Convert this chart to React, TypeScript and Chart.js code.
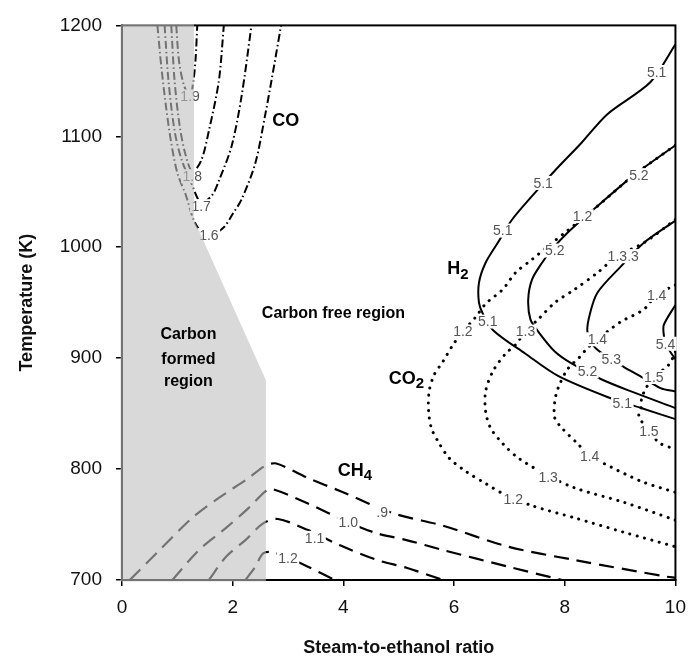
import React, { useEffect, useRef } from "react";
import { Chart, registerables } from "chart.js";

Chart.register(...registerables);

type P = [number, number];

const FONT = "'Liberation Sans', Arial, Helvetica, sans-serif";

// Axis ranges / ticks
const xRange: P = [0, 10];
const yRange: P = [700, 1200];
const xStep = 2;
const yStep = 100;

// Carbon-formed region boundary (steam/ethanol ratio, temperature K)
const shadeX = [0, 1.3, 1.3, 2.6, 2.6, 0];
const shadeY = [1200, 1200, 1025, 880, 700, 700];

// CO contours (dash-dot)
const co16: P[] = [[0.64, 1200], [0.71, 1163], [0.8, 1125], [0.89, 1094], [1.0, 1067], [1.16, 1046], [1.3, 1024], [1.45, 1013], [1.62, 1011], [1.84, 1018], [2.0, 1030], [2.16, 1043], [2.41, 1076], [2.59, 1120], [2.7, 1150], [2.875, 1200]];
const co17: P[] = [[0.77, 1200], [0.84, 1150], [0.95, 1105], [1.07, 1080], [1.25, 1058], [1.43, 1040], [1.63, 1047], [1.75, 1060], [1.98, 1091], [2.16, 1136], [2.34, 1200]];
const co18: P[] = [[0.89, 1200], [0.95, 1150], [1.04, 1110], [1.14, 1085], [1.27, 1068], [1.43, 1078], [1.57, 1105], [1.75, 1150], [1.84, 1200]];
const co19: P[] = [[0.98, 1200], [1.03, 1168], [1.12, 1146], [1.23, 1136], [1.29, 1150], [1.33, 1170], [1.36, 1200]];

// CH4 contours (long dash)
const ch409: P[] = [[0.14, 700], [0.68, 727], [1.27, 756], [1.75, 774], [2.29, 792], [2.59, 803], [2.79, 805], [3.36, 792], [3.95, 780], [4.91, 760], [5.8, 749], [6.98, 730], [8.18, 718], [9.84, 703], [10, 702]];
const ch410: P[] = [[0.91, 700], [1.39, 727], [1.88, 747], [2.29, 765], [2.59, 780], [2.72, 782], [3.36, 769], [4.09, 752], [4.61, 742], [5.14, 736], [5.8, 727], [6.98, 712], [7.95, 700]];
const ch411: P[] = [[1.57, 700], [1.88, 721], [2.23, 736], [2.55, 751], [2.82, 755], [3.36, 745], [3.95, 731], [4.61, 718], [5.14, 711], [5.8, 700]];
const ch412: P[] = [[2.23, 700], [2.41, 712], [2.55, 724], [2.73, 725], [3.0, 720], [3.36, 712], [3.84, 700]];

// H2 contours (solid)
const h251: P[] = [[10, 1183], [9.55, 1149], [8.77, 1120], [8.3, 1094], [7.82, 1069], [7.46, 1049], [7.05, 1025], [6.79, 1004], [6.57, 986], [6.45, 968], [6.45, 950], [6.52, 940], [6.71, 925], [7.29, 904], [7.88, 884], [8.77, 865], [9.38, 855], [10, 845]];
const h252: P[] = [[10, 1092], [9.25, 1065], [8.59, 1037], [8.05, 1013], [7.77, 998], [7.59, 986], [7.41, 971], [7.34, 953], [7.38, 935], [7.52, 924], [7.82, 906], [8.13, 895], [8.66, 881], [9.2, 870], [10, 855]];
const h253: P[] = [[10, 1024], [9.43, 1004], [9.02, 983], [8.59, 959], [8.45, 939], [8.41, 924], [8.54, 910], [8.84, 899], [9.07, 892], [9.39, 883], [9.73, 873], [10, 870]];
const h254: P[] = [[10, 948], [9.79, 930], [9.79, 921], [9.82, 913], [9.93, 904], [10, 899]];

// CO2 contours (dotted)
const co212: P[] = [[10, 1092], [9.25, 1065], [8.59, 1037], [8.0, 1013], [7.7, 1001], [7.41, 989], [7.11, 977], [6.88, 962], [6.57, 949], [6.39, 937], [6.16, 924], [5.98, 912], [5.8, 897], [5.64, 885], [5.55, 870], [5.54, 852], [5.59, 837], [5.71, 825], [5.91, 810], [6.21, 798], [6.57, 787], [6.88, 778], [7.41, 767], [8.18, 756], [9.07, 743], [10, 730]];
const co213: P[] = [[10, 1025], [9.43, 1004], [8.95, 992], [8.59, 977], [8.18, 962], [7.82, 950], [7.52, 935], [7.29, 924], [7.11, 912], [6.93, 904], [6.7, 888], [6.57, 870], [6.57, 852], [6.66, 837], [6.88, 823], [7.16, 810], [7.7, 794], [8.18, 783], [9.07, 770], [10, 754]];
const co214: P[] = [[10, 966], [9.66, 957], [9.43, 944], [9.02, 933], [8.77, 924], [8.59, 917], [8.39, 908], [8.27, 901], [8.05, 890], [7.88, 873], [7.82, 861], [7.82, 846], [7.95, 837], [8.23, 823], [8.45, 812], [8.71, 805], [9.38, 789], [10, 779]];
const co215: P[] = [[10, 906], [9.88, 894], [9.61, 883], [9.48, 874], [9.39, 864], [9.38, 855], [9.34, 848], [9.52, 834], [9.73, 823], [10, 818]];

// Contour value labels: [x, y, text]
const h2Labels: [number, number, string][] = [
  [9.66, 1158, "5.1"], [7.61, 1058, "5.1"], [6.88, 1015, "5.1"], [6.61, 933, "5.1"], [9.04, 859, "5.1"],
  [9.34, 1065, "5.2"], [7.82, 997, "5.2"], [8.41, 888, "5.2"],
  [9.16, 992, "5.3"], [8.84, 899, "5.3"], [9.82, 913, "5.4"],
];
const co2Labels: [number, number, string][] = [
  [8.32, 1028, "1.2"], [6.16, 924, "1.2"], [7.07, 773, "1.2"],
  [8.95, 992, "1.3"], [7.29, 924, "1.3"], [7.7, 793, "1.3"],
  [9.66, 957, "1.4"], [8.59, 917, "1.4"], [8.45, 812, "1.4"],
  [9.61, 883, "1.5"], [9.52, 834, "1.5"],
];
const coLabels: [number, number, string][] = [
  [1.23, 1136, "1.9"], [1.27, 1064, "1.8"], [1.43, 1037, "1.7"], [1.57, 1011, "1.6"],
];
const ch4Labels: [number, number, string][] = [
  [4.7, 761, ".9"], [4.09, 752, "1.0"], [3.48, 738, "1.1"], [3.0, 720, "1.2"],
];

// Species names: [x, y, base, subscript]
const speciesNames: [number, number, string, string][] = [
  [2.96, 1114, "CO", ""],
  [6.07, 980, "H", "2"],
  [5.14, 881, "CO", "2"],
  [4.21, 798, "CH", "4"],
];

const freeRegionText = { x: 3.82, y: 940, text: "Carbon free region" };
const formedRegionText = { x: 1.2, y: [921, 899, 879], text: ["Carbon", "formed", "region"] };

type Style = "solid" | "dot" | "dash" | "dashdot";

function curve(label: string, pts: P[], style: Style) {
  const base: any = {
    label,
    data: pts.map(([x, y]) => ({ x, y })),
    showLine: true,
    pointRadius: 0,
    pointHoverRadius: 0,
    borderColor: "#000",
    backgroundColor: "#000",
    fill: false,
    tension: 0.3,
    borderWidth: 2,
  };
  if (style === "dot") {
    base.borderDash = [0.1, 7.5];
    base.borderCapStyle = "round";
    base.borderWidth = 3;
  } else if (style === "dash") {
    base.borderDash = [15, 8];
    base.borderWidth = 2.2;
  } else if (style === "dashdot") {
    base.borderDash = [8, 3, 1.5, 3];
    base.borderWidth = 2;
  }
  return base;
}

const regionPlugin = {
  id: "regionPlugin",
  afterDraw(chart: any) {
    const { ctx, chartArea: a } = chart;
    const xs = chart.scales.x;
    const ys = chart.scales.y;
    const px = (v: number) => xs.getPixelForValue(v);
    const py = (v: number) => ys.getPixelForValue(v);
    ctx.save();

    // plot frame
    ctx.strokeStyle = "#000";
    ctx.lineWidth = 2;
    ctx.strokeRect(a.left, a.top, a.right - a.left, a.bottom - a.top);

    // contour value labels, masking the line beneath them
    ctx.font = `14px ${FONT}`;
    ctx.textAlign = "center";
    ctx.textBaseline = "middle";
    const drawLabels = (list: [number, number, string][]) => {
      for (const [x, y, t] of list) {
        const cx = px(x);
        const cy = py(y);
        const w = ctx.measureText(t).width;
        ctx.fillStyle = "#fff";
        ctx.fillRect(cx - w / 2 - 1.5, cy - 7, w + 3, 14);
        ctx.fillStyle = "#555";
        ctx.fillText(t, cx, cy + 1);
      }
    };
    drawLabels(h2Labels);
    drawLabels(co2Labels);
    drawLabels(coLabels);
    drawLabels(ch4Labels);

    // translucent grey over the carbon-formed region
    ctx.beginPath();
    shadeX.forEach((x, i) => {
      let X = px(x);
      let Y = py(shadeY[i]);
      if (x === xRange[0]) X -= 1.5;
      if (shadeY[i] === yRange[1]) Y -= 1.5;
      if (shadeY[i] === yRange[0]) Y += 1.5;
      if (i === 0) ctx.moveTo(X, Y);
      else ctx.lineTo(X, Y);
    });
    ctx.closePath();
    ctx.fillStyle = "rgba(192,192,192,0.6)";
    ctx.fill();

    // species names
    ctx.fillStyle = "#000";
    ctx.textAlign = "left";
    for (const [x, y, b, s] of speciesNames) {
      ctx.font = `bold 18px ${FONT}`;
      const wb = ctx.measureText(b).width;
      ctx.font = `bold 15px ${FONT}`;
      const ws = s ? ctx.measureText(s).width : 0;
      const sx = px(x) - (wb + ws) / 2;
      const cy = py(y);
      ctx.font = `bold 18px ${FONT}`;
      ctx.fillText(b, sx, cy);
      if (s) {
        ctx.font = `bold 15px ${FONT}`;
        ctx.fillText(s, sx + wb, cy + 5);
      }
    }

    // region captions
    ctx.textAlign = "center";
    ctx.font = `bold 16px ${FONT}`;
    ctx.fillText(freeRegionText.text, px(freeRegionText.x), py(freeRegionText.y));
    formedRegionText.text.forEach((t, i) => {
      ctx.fillText(t, px(formedRegionText.x), py(formedRegionText.y[i]));
    });

    ctx.restore();
  },
};

export default function App() {
  const ref = useRef<HTMLCanvasElement | null>(null);

  useEffect(() => {
    if (!ref.current) return;
    const tickFont = { family: FONT, size: 19 };
    const titleFont = { family: FONT, size: 18, weight: "bold" as const };
    const grid = {
      drawOnChartArea: false,
      drawTicks: true,
      tickLength: 6,
      color: "#000",
      lineWidth: 1.5,
    };
    const border = { display: true, color: "#000", width: 2 };

    const chart = new Chart(ref.current, {
      type: "scatter",
      data: {
        datasets: [
          curve("CO 1.6", co16, "dashdot"),
          curve("CO 1.7", co17, "dashdot"),
          curve("CO 1.8", co18, "dashdot"),
          curve("CO 1.9", co19, "dashdot"),
          curve("CH4 0.9", ch409, "dash"),
          curve("CH4 1.0", ch410, "dash"),
          curve("CH4 1.1", ch411, "dash"),
          curve("CH4 1.2", ch412, "dash"),
          curve("H2 5.1", h251, "solid"),
          curve("H2 5.2", h252, "solid"),
          curve("H2 5.3", h253, "solid"),
          curve("H2 5.4", h254, "solid"),
          curve("CO2 1.2", co212, "dot"),
          curve("CO2 1.3", co213, "dot"),
          curve("CO2 1.4", co214, "dot"),
          curve("CO2 1.5", co215, "dot"),
        ],
      },
      options: {
        responsive: false,
        animation: false,
        devicePixelRatio: 1,
        layout: { padding: { top: 21, right: 14, left: 0, bottom: 0 } },
        plugins: { legend: { display: false }, tooltip: { enabled: false } },
        scales: {
          x: {
            type: "linear",
            min: xRange[0],
            max: xRange[1],
            afterFit: (s: any) => {
              s.height = 82;
            },
            ticks: { stepSize: xStep, padding: 10, font: tickFont, color: "#111", callback: (v: any) => String(v) },
            grid,
            border,
            title: { display: true, text: "Steam-to-ethanol ratio", font: titleFont, color: "#111", padding: { top: 0, bottom: 3 } },
          },
          y: {
            type: "linear",
            min: yRange[0],
            max: yRange[1],
            afterFit: (s: any) => {
              s.width = 122;
            },
            ticks: { stepSize: yStep, padding: 14, font: tickFont, color: "#111", callback: (v: any) => String(v) },
            grid,
            border,
            title: { display: true, text: "Temperature (K)", font: titleFont, color: "#111", padding: { top: 16, bottom: 0 } },
          },
        },
      },
      plugins: [regionPlugin],
    } as any);
    return () => chart.destroy();
  }, []);

  return (
    <div style={{ position: "fixed", left: 0, top: 0, width: 696, height: 662, background: "#fff" }}>
      <canvas ref={ref} width={696} height={662} style={{ display: "block" }} />
    </div>
  );
}
